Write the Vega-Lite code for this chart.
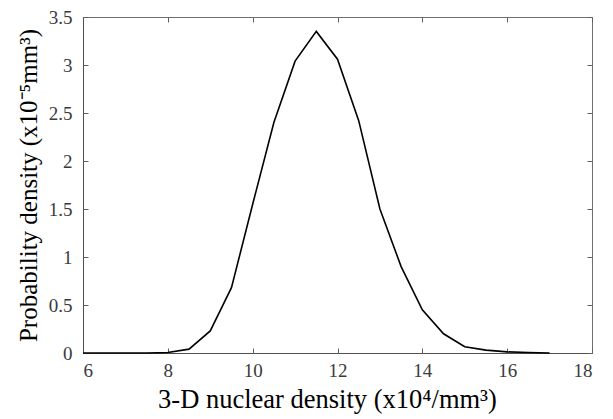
{
  "$schema": "https://vega.github.io/schema/vega-lite/v6.json",
  "autosize": {"type": "none"},
  "padding": {"left": 83, "top": 17, "right": 21, "bottom": 66},
  "width": 509,
  "height": 336,
  "background": "white",
  "config": {
    "view": {"stroke": "#707070", "strokeWidth": 1}
  },
  "data": {"values": [
    {"x": 6, "y": 0}, {"x": 6.5, "y": 0}, {"x": 7, "y": 0}, {"x": 7.5, "y": 0},
    {"x": 8, "y": 0.005}, {"x": 8.5, "y": 0.04}, {"x": 9, "y": 0.23}, {"x": 9.5, "y": 0.68},
    {"x": 10, "y": 1.55}, {"x": 10.5, "y": 2.4}, {"x": 11, "y": 3.04}, {"x": 11.5, "y": 3.35},
    {"x": 12, "y": 3.06}, {"x": 12.5, "y": 2.42}, {"x": 13, "y": 1.5}, {"x": 13.5, "y": 0.9},
    {"x": 14, "y": 0.45}, {"x": 14.5, "y": 0.2}, {"x": 15, "y": 0.065}, {"x": 15.5, "y": 0.03},
    {"x": 16, "y": 0.012}, {"x": 16.5, "y": 0.005}, {"x": 17, "y": 0}
  ]},
  "layer": [
    {
      "mark": {"type": "line", "color": "black", "strokeWidth": 1.6},
      "encoding": {
        "x": {"field": "x", "type": "quantitative", "scale": {"domain": [6, 18], "nice": false, "zero": false},
              "axis": {"orient": "bottom", "grid": false, "ticks": false, "values": [6, 8, 10, 12, 14, 16, 18], "title": "3-D nuclear density (x10⁴/mm³)", "titleX": 244, "titleFont": "Liberation Serif", "titleFontSize": 26.5, "titleFontWeight": "normal", "titleColor": "black", "labelFont": "Liberation Serif", "labelFontSize": 19, "labelColor": "#3a3a3a", "labelPadding": 8, "titlePadding": 6, "domainColor": "#505050"}},
        "y": {"field": "y", "type": "quantitative", "scale": {"domain": [0, 3.5], "nice": false},
              "axis": {"orient": "left", "grid": false, "ticks": false, "values": [0, 0.5, 1, 1.5, 2, 2.5, 3, 3.5], "format": "~g", "title": "Probability density (x10⁻⁵mm³)", "titleFont": "Liberation Serif", "titleFontSize": 25, "titleFontWeight": "normal", "titleColor": "black", "labelFont": "Liberation Serif", "labelFontSize": 19, "labelColor": "#3a3a3a", "labelPadding": 11, "titlePadding": 7, "domainColor": "#505050"}}
      }
    },
    {
      "mark": {"type": "line", "opacity": 0},
      "encoding": {
        "x": {"field": "x", "type": "quantitative", "axis": {"orient": "bottom", "offset": -5, "grid": false, "values": [6, 8, 10, 12, 14, 16, 18], "labels": false, "title": null, "domain": false, "ticks": true, "tickColor": "#606060", "tickWidth": 1, "tickSize": 5}},
        "y": {"field": "y", "type": "quantitative", "axis": {"orient": "left", "offset": -5, "grid": false, "values": [0, 0.5, 1, 1.5, 2, 2.5, 3, 3.5], "labels": false, "title": null, "domain": false, "ticks": true, "tickColor": "#606060", "tickWidth": 1, "tickSize": 5}}
      }
    },
    {
      "mark": {"type": "line", "opacity": 0},
      "encoding": {
        "x": {"field": "x", "type": "quantitative", "axis": {"orient": "top", "offset": -5, "grid": false, "values": [6, 8, 10, 12, 14, 16, 18], "labels": false, "title": null, "domain": false, "ticks": true, "tickColor": "#606060", "tickWidth": 1, "tickSize": 5}},
        "y": {"field": "y", "type": "quantitative", "axis": {"orient": "right", "offset": -5, "grid": false, "values": [0, 0.5, 1, 1.5, 2, 2.5, 3, 3.5], "labels": false, "title": null, "domain": false, "ticks": true, "tickColor": "#606060", "tickWidth": 1, "tickSize": 5}}
      }
    }
  ],
  "resolve": {"axis": {"x": "independent", "y": "independent"}}
}
